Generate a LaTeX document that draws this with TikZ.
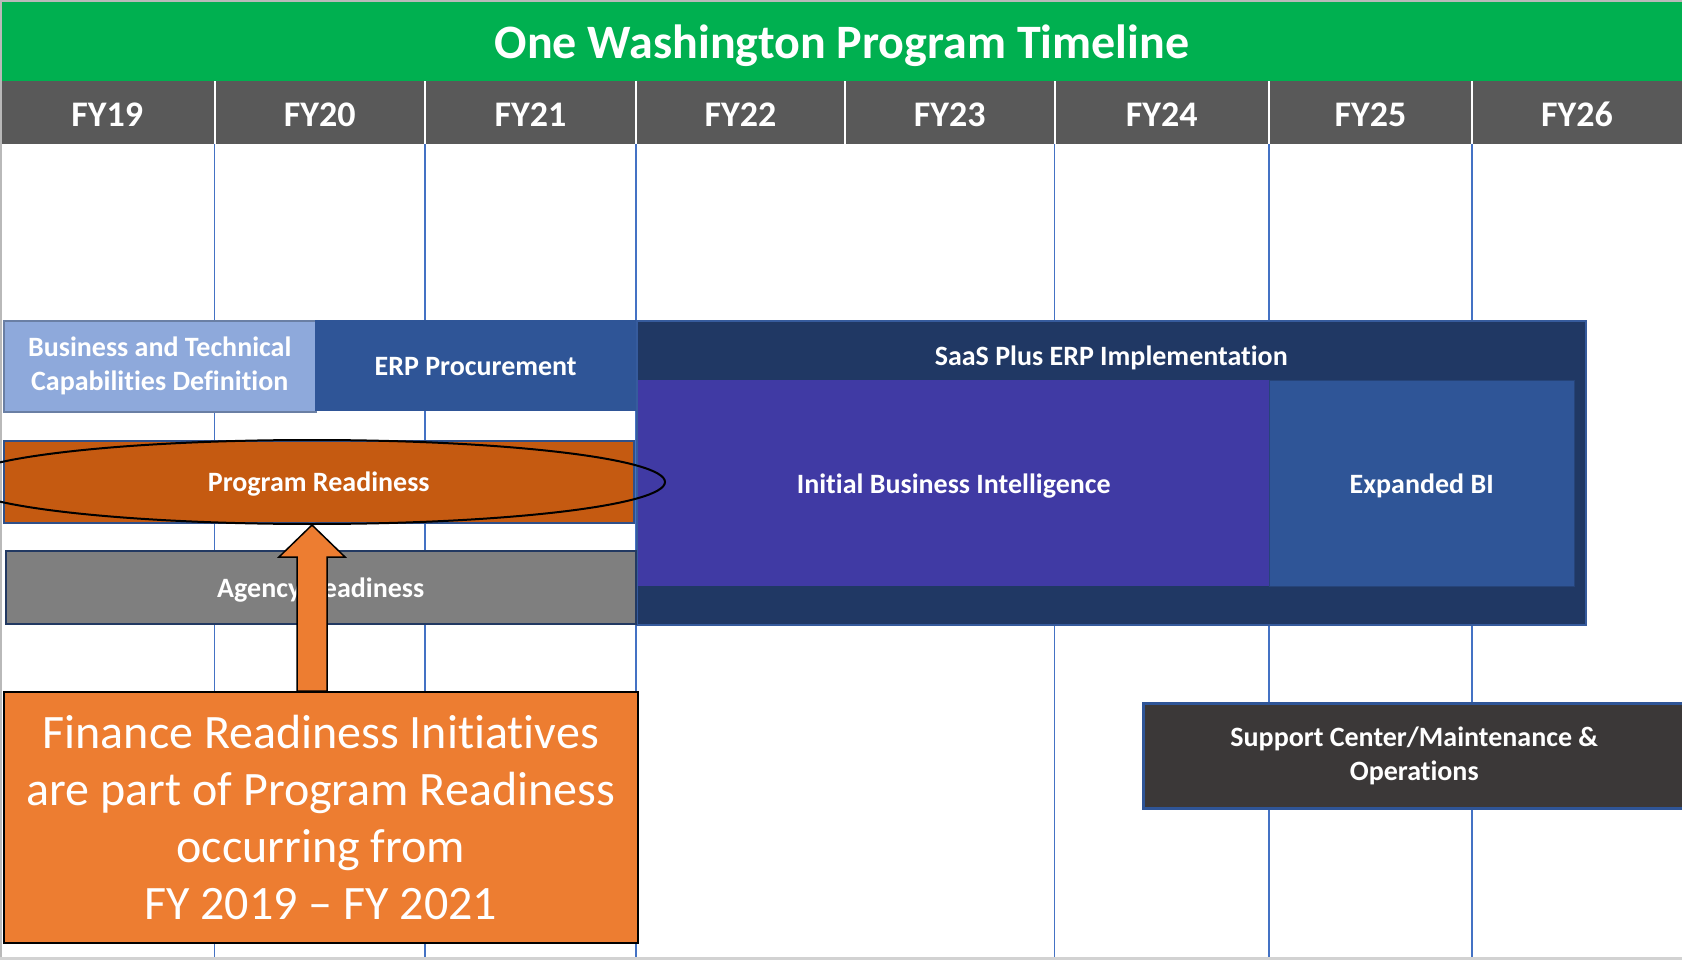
\documentclass[tikz,border=0pt]{standalone}
\usepackage{fontspec}
\setmainfont{Carlito}[Ligatures=NoCommon]
\usetikzlibrary{shapes.geometric,calc}
\definecolor{owgreen}{HTML}{00B050}
\definecolor{hdrgrey}{HTML}{595959}
\definecolor{gridblue}{HTML}{4472C4}
\definecolor{lightblue}{HTML}{8EA9DB}
\definecolor{midblue}{HTML}{2F5597}
\definecolor{navy}{HTML}{203864}
\definecolor{violet}{HTML}{403AA4}
\definecolor{rust}{HTML}{C55A11}
\definecolor{midgrey}{HTML}{7F7F7F}
\definecolor{calloutorange}{HTML}{ED7D31}
\definecolor{charcoal}{HTML}{3B3838}
\begin{document}
\begin{tikzpicture}[x=1pt,y=-1pt,
    bar/.style={rectangle,inner sep=0pt,anchor=north west,text=white,text height=20pt,text depth=0pt,
        font=\bfseries\fontsize{28}{34}\selectfont},
    bartwo/.style={rectangle,inner sep=0pt,anchor=north west,text=white,align=center,
        font=\bfseries\fontsize{28}{34}\selectfont},
    txt/.style={inner sep=0pt,text=white,font=\bfseries\fontsize{28}{34}\selectfont},
    yearcell/.style={inner sep=0pt,text=white,font=\bfseries\fontsize{36}{40}\selectfont},
    frarrow/.style={fill=calloutorange,draw=black,line width=1.5pt,line join=miter}]
    \useasboundingbox (0,0) rectangle (1682,960);
    \fill[white] (0,0) rectangle (1682,960);
    \fill[owgreen] (0,0) rectangle (1682,81.5);
    \node[inner sep=0pt,text=white,font=\bfseries\fontsize{48}{52}\selectfont] (title) at (842,46) {One Washington Program Timeline};
    \fill[hdrgrey] (0,81.5) rectangle (1682,144);
    \foreach \xa/\xb/\yr in {0/214.5/19,214.5/425/20,425/636/21,636/845/22,845/1054.5/23,1054.5/1269/24,1269/1472/25,1472/1682/26}
        \node[yearcell] (fy\yr) at ({(\xa+\xb)/2},114.5) {FY\yr};
    \foreach \x in {214.5,425,636,845,1054.5,1269,1472}
        \draw[white,line width=2pt] (\x,81.5) -- (\x,144);
    \foreach \x in {214.5,425,636,1054.5,1269,1472}
        \draw[gridblue,line width=1.5pt] (\x,144) -- (\x,960);
    \draw[gray!55,line width=2pt] (1,960) -- (1,1) -- (1682,1);
    \draw[gray!35,line width=3pt] (0,958.5) -- (1682,958.5);

    \node[bartwo,fill=lightblue,draw=lightblue!75!black,line width=1.5pt,minimum width=312,minimum height=91] (btc) at (3,320) {Business and Technical\\Capabilities Definition};
    \node[bar,fill=midblue,minimum width=321,minimum height=91] (erp) at (315,320) {ERP Procurement};
    \node[bar,fill=navy,draw=gridblue!80!black,line width=1.5pt,minimum width=949,minimum height=304] (saas) at (636,320) {};
    \node[txt] (saaslbl) at ($(saas.north)+(0,37.5)$) {SaaS Plus ERP Implementation};
    \node[bar,fill=violet,minimum width=631,minimum height=206] (ibi) at (638,380) {Initial Business Intelligence};
    \node[bar,fill=midblue,draw=midblue!80!black,minimum width=305,minimum height=206] (ebi) at (1269,380) {Expanded BI};
    \node[bar,fill=rust,draw=gridblue!70!black,line width=1.5pt,minimum width=630,minimum height=82] (prog) at (3,440) {Program Readiness};
    \node[bar,fill=midgrey,draw=gridblue!50!black,line width=1.5pt,minimum width=630,minimum height=73] (agency) at (5,550) {Agency Readiness};
    \node[bartwo,fill=charcoal,draw=midblue,line width=2.5pt,minimum width=542,minimum height=105] (support) at (1142,702) {Support Center/Maintenance \&\\Operations};

    \node[ellipse,draw=black,line width=2pt,minimum width=706,minimum height=84,inner sep=0pt] (ell) at (312,482) {};
    \node[anchor=north west,inner sep=0pt,fill=calloutorange,draw=black,line width=1.5pt,minimum width=634,minimum height=251,
        text=white,align=center,font=\fontsize{48}{57}\selectfont] (callout) at (3,691) {Finance Readiness Initiatives\\are part of Program Readiness\\occurring from\\FY 2019 – FY 2021};
    \draw[frarrow] (ell.south) -- ([shift={(33,32)}]ell.south) -- ([shift={(15,32)}]ell.south)
        -- ([xshift=15pt]ell.south |- callout.north) -- ([xshift=-15pt]ell.south |- callout.north)
        -- ([shift={(-15,32)}]ell.south) -- ([shift={(-33,32)}]ell.south) -- cycle;
\end{tikzpicture}
\end{document}
